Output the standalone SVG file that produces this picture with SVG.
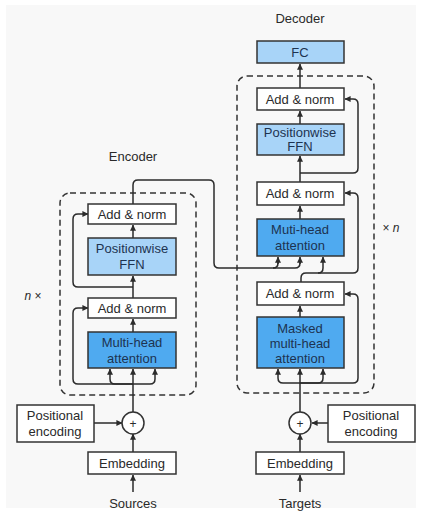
<svg xmlns="http://www.w3.org/2000/svg" width="422" height="513" viewBox="0 0 422 513">
<defs>
<marker id="ah" viewBox="0 0 8 8" refX="7.5" refY="4" markerWidth="6" markerHeight="6" markerUnits="userSpaceOnUse" orient="auto">
<path d="M0,0 L8,4 L0,8 z" fill="#2b2b2b"/>
</marker>
<style>
.bx{stroke:#333;stroke-width:1.5;fill:#ffffff}
.lb{fill:#a8d4f8}
.db{fill:#4faaf0}
.t{font-family:"Liberation Sans",Arial,sans-serif;font-size:13px;fill:#2a2a2a;text-anchor:middle}
.tb{fill:#1d3350}
.dash{fill:none;stroke:#333;stroke-width:1.5;stroke-dasharray:6 4}
.c{fill:none;stroke:#2b2b2b;stroke-width:1.5}
.a{marker-end:url(#ah)}
</style>
</defs>
<rect x="0" y="0" width="422" height="513" fill="#ffffff"/>
<rect x="6" y="5" width="410" height="503" fill="#f8f8f8"/>

<text class="t" x="133" y="161">Encoder</text>
<text class="t" x="300" y="23">Decoder</text>
<text class="t" x="33" y="300" style="font-size:12px"><tspan font-style="italic">n</tspan> ×</text>
<text class="t" x="391" y="232" style="font-size:12px">× <tspan font-style="italic">n</tspan></text>

<rect class="dash" x="60" y="193" width="136" height="202" rx="10"/>
<rect class="dash" x="237" y="76" width="137" height="317" rx="10"/>

<g id="connectors">
<!-- encoder -->
<path class="c" d="M133,204 V185 Q133,180 138,180 H209 Q214,180 214,185 V263 Q214,268 219,268 H273 Q278,268 278,263 V260"/>
<path class="c a" d="M278,264 V257"/>
<path class="c" d="M273,268 H295 Q300,268 300,263 V260"/>
<path class="c a" d="M300,264 V257"/>
<path class="c a" d="M133,238 V225"/>
<path class="c a" d="M133,298 V276"/>
<path class="c a" d="M133,287 H78 Q73,287 73,282 V219 Q73,214 78,214 H88"/>
<path class="c a" d="M133,332 V319"/>
<path class="c a" d="M133,412 V369"/>
<path class="c a" d="M133,384 H115 Q110,384 110,379 V369"/>
<path class="c a" d="M133,384 H150 Q155,384 155,379 V369"/>
<path class="c a" d="M133,384 H78 Q73,384 73,379 V313 Q73,308 78,308 H88"/>
<path class="c a" d="M94,423 H122"/>
<path class="c a" d="M133,452 V434"/>
<path class="c a" d="M133,492 V475"/>
<!-- decoder -->
<path class="c a" d="M300,88 V64"/>
<path class="c a" d="M300,124 V111"/>
<path class="c a" d="M300,182 V156"/>
<path class="c a" d="M300,173 H353 Q358,173 358,168 V104 Q358,99 353,99 H345"/>
<path class="c a" d="M300,219 V206"/>
<path class="c" d="M301,282 V278 Q301,273 306,273 H353 Q358,273 358,268 V198 Q358,193 353,193 H346"/>
<path class="c a" d="M350,193 H345"/>
<path class="c a" d="M318,273 Q323,273 323,268 V257"/>
<path class="c a" d="M300,317 V306"/>
<path class="c a" d="M300,412 V369"/>
<path class="c a" d="M300,383 H283 Q278,383 278,378 V369"/>
<path class="c a" d="M300,383 H318 Q323,383 323,378 V369"/>
<path class="c a" d="M300,383 H353 Q358,383 358,378 V299 Q358,294 353,294 H345"/>
<path class="c a" d="M328,423 H312"/>
<path class="c a" d="M300,452 V434"/>
<path class="c a" d="M300,492 V475"/>
</g>

<g id="enc-addnorm2"><rect class="bx" x="88" y="204" width="88" height="20"/><text class="t" x="132" y="219">Add &amp; norm</text></g>
<g id="enc-ffn"><rect class="bx lb" x="88" y="238" width="88" height="37"/><text class="t tb" x="132" y="253">Positionwise</text><text class="t tb" x="132" y="269">FFN</text></g>
<g id="enc-addnorm1"><rect class="bx" x="88" y="298" width="88" height="20"/><text class="t" x="132" y="313">Add &amp; norm</text></g>
<g id="enc-mha"><rect class="bx db" x="88" y="332" width="88" height="36"/><text class="t tb" x="132" y="347">Multi-head</text><text class="t tb" x="132" y="363">attention</text></g>
<g id="enc-pe"><rect class="bx" x="17" y="405" width="77" height="37"/><text class="t" x="55" y="420">Positional</text><text class="t" x="55" y="436">encoding</text></g>
<g id="enc-plus"><circle cx="133" cy="423" r="11" fill="#fff" stroke="#333" stroke-width="1.5"/><text class="t" x="133" y="427.5" style="font-size:12px">+</text></g>
<g id="enc-emb"><rect class="bx" x="88" y="452" width="88" height="22"/><text class="t" x="132" y="468">Embedding</text></g>
<g id="sources"><text class="t" x="133" y="508">Sources</text></g>

<g id="dec-fc"><rect class="bx lb" x="257" y="41" width="87" height="22"/><text class="t tb" x="300" y="57">FC</text></g>
<g id="dec-addnorm3"><rect class="bx" x="257" y="88" width="87" height="22"/><text class="t" x="300" y="104">Add &amp; norm</text></g>
<g id="dec-ffn"><rect class="bx lb" x="257" y="124" width="87" height="31"/><text class="t tb" x="300" y="137">Positionwise</text><text class="t tb" x="300" y="151">FFN</text></g>
<g id="dec-addnorm2"><rect class="bx" x="257" y="182" width="87" height="23"/><text class="t" x="300" y="198">Add &amp; norm</text></g>
<g id="dec-mha"><rect class="bx db" x="257" y="219" width="87" height="37"/><text class="t tb" x="300" y="234">Muti-head</text><text class="t tb" x="300" y="250">attention</text></g>
<g id="dec-addnorm1"><rect class="bx" x="257" y="282" width="87" height="23"/><text class="t" x="300" y="298">Add &amp; norm</text></g>
<g id="dec-mmha"><rect class="bx db" x="257" y="317" width="87" height="51"/><text class="t tb" x="300" y="333">Masked</text><text class="t tb" x="300" y="348">multi-head</text><text class="t tb" x="300" y="363">attention</text></g>
<g id="dec-pe"><rect class="bx" x="328" y="405" width="87" height="37"/><text class="t" x="371" y="420">Positional</text><text class="t" x="371" y="436">encoding</text></g>
<g id="dec-plus"><circle cx="300" cy="423" r="11" fill="#fff" stroke="#333" stroke-width="1.5"/><text class="t" x="300" y="427.5" style="font-size:12px">+</text></g>
<g id="dec-emb"><rect class="bx" x="256" y="452" width="88" height="22"/><text class="t" x="300" y="468">Embedding</text></g>
<g id="targets"><text class="t" x="300" y="508">Targets</text></g>
</svg>
